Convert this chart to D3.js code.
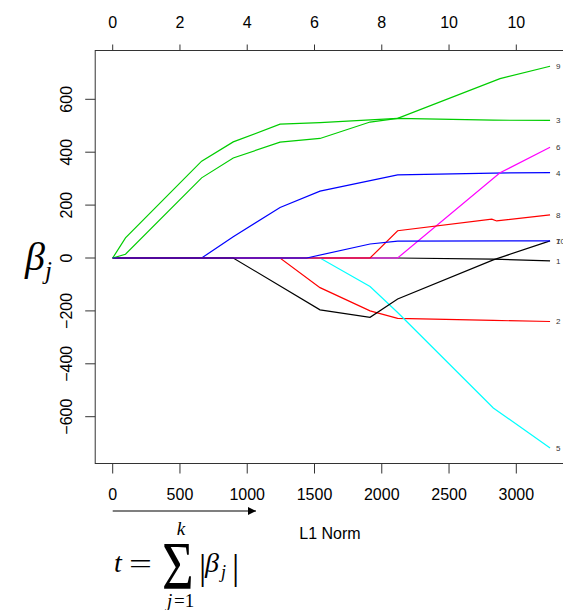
<!DOCTYPE html>
<html>
<head>
<meta charset="utf-8">
<script src="https://cdn.jsdelivr.net/npm/d3@7"></script>
<style>
  body { margin: 0; background: #fff; }
  svg { display: block; overflow: hidden; }
</style>
</head>
<body>
<div id="chart"></div>
<script>
// Coefficient paths: [L1 norm, beta] per variable
const v1 = [[0, 0], [2118, 0], [2829, -4], [3251, -11]];
const v2 = [[0, 0], [1244, 0], [1541, -112], [1913, -200], [2118, -228], [2829, -236], [3251, -240]];
const v3 = [[0, 0], [95, 76], [661, 366], [896, 439], [1244, 506], [1541, 512], [2118, 528], [2829, 521], [3251, 520]];
const v4 = [[0, 0], [661, 0], [896, 80], [1244, 191], [1541, 253], [2118, 314], [2829, 321], [3251, 323]];
const v5 = [[0, 0], [1541, 0], [1913, -108], [2118, -206], [2829, -567], [3251, -718]];
const v6 = [[0, 0], [2118, 0], [2879, 322], [3251, 419]];
const v7 = [[0, 0], [896, 0], [1541, -196], [1913, -224], [2118, -155], [2829, -7], [3251, 65]];
const v8 = [[0, 0], [1913, 0], [2118, 103], [2818, 147], [2854, 140], [3251, 163]];
const v9 = [[0, 0], [95, 14], [661, 303], [896, 378], [1244, 438], [1541, 452], [1913, 514], [2118, 528], [2879, 678], [3251, 725]];
const v10 = [[0, 0], [1442, 0], [1913, 53], [2118, 64], [3251, 65]];

const paths = [v1, v2, v3, v4, v5, v6, v7, v8, v9, v10];
const varNames = ["1", "2", "3", "4", "5", "6", "7", "8", "9", "10"];

// axis ticks
const xTicks = [0, 500, 1000, 1500, 2000, 2500, 3000];
const dfLabels = ["0", "2", "4", "6", "8", "10", "10"];
const yTicks = [-600, -400, -200, 0, 200, 400, 600];

// R's old default palette
const palette = ["#000000", "#FF0000", "#00CD00", "#0000FF", "#00FFFF", "#FF00FF"];

const width = 563, height = 610;

const svg = d3.select('#chart')
    .append('svg')
    .attr('width', width)
    .attr('height', height);

const x = d3.scaleLinear().domain([0, 3000]).range([112.7, 516.3]);
const y = d3.scaleLinear().domain([-600, 600]).range([416.7, 99.3]);

// plot box (R pads 4%, right side falls past the window)
const boxL = x(-130), boxR = x(3380), boxT = 50.5, boxB = 463.5;

const font = "'Liberation Sans', Arial, Helvetica, sans-serif";
const axisCol = "#333";

// lines
const line = d3.line().x(d => x(d[0])).y(d => y(d[1]));
svg.append('g')
    .selectAll('path')
    .data(paths)
    .join('path')
      .attr('d', line)
      .attr('fill', 'none')
      .attr('stroke', (d, i) => palette[i % palette.length])
      .attr('stroke-width', 1.2);

// box
svg.append('rect')
    .attr('x', boxL).attr('y', boxT)
    .attr('width', boxR - boxL).attr('height', boxB - boxT)
    .attr('fill', 'none').attr('stroke', axisCol).attr('stroke-width', 1);

// bottom axis
const bottomAxis = svg.append('g');
bottomAxis.append('line')
    .attr('x1', x(0)).attr('x2', x(3000)).attr('y1', boxB).attr('y2', boxB)
    .attr('stroke', axisCol);
bottomAxis.selectAll('line.tick').data(xTicks).join('line')
    .attr('class', 'tick')
    .attr('x1', d => x(d)).attr('x2', d => x(d))
    .attr('y1', boxB).attr('y2', boxB + 10)
    .attr('stroke', axisCol);
bottomAxis.selectAll('text').data(xTicks).join('text')
    .attr('x', d => x(d)).attr('y', 500)
    .attr('text-anchor', 'middle')
    .style('font-family', font).style('font-size', '16px')
    .text(d => d);

// top axis (degrees of freedom)
const topAxis = svg.append('g');
topAxis.selectAll('line').data(xTicks).join('line')
    .attr('x1', d => x(d)).attr('x2', d => x(d))
    .attr('y1', boxT).attr('y2', boxT - 6)
    .attr('stroke', axisCol);
topAxis.selectAll('text').data(xTicks).join('text')
    .attr('x', d => x(d)).attr('y', 27.5)
    .attr('text-anchor', 'middle')
    .style('font-family', font).style('font-size', '16px')
    .text((d, i) => dfLabels[i]);

// left axis
const leftAxis = svg.append('g');
leftAxis.selectAll('line').data(yTicks).join('line')
    .attr('x1', boxL).attr('x2', boxL - 10)
    .attr('y1', d => y(d)).attr('y2', d => y(d))
    .attr('stroke', axisCol);
leftAxis.selectAll('text').data(yTicks).join('text')
    .attr('transform', d => `translate(72,${y(d)}) rotate(-90)`)
    .attr('text-anchor', 'middle')
    .style('font-family', font).style('font-size', '16px')
    .text(d => d < 0 ? '\u2212' + Math.abs(d) : d);

// variable labels at the end of each path
svg.append('g')
    .selectAll('text')
    .data(paths)
    .join('text')
      .attr('x', d => x(d[d.length - 1][0]) + 6)
      .attr('y', d => y(d[d.length - 1][1]) + 3)
      .style('font-family', font).style('font-size', '8px')
      .style('fill', '#333')
      .text((d, i) => varNames[i]);

// x label
svg.append('text')
    .attr('x', 330).attr('y', 539)
    .attr('text-anchor', 'middle')
    .style('font-family', font).style('font-size', '16px')
    .text('L1 Norm');

// beta_j y label
const serif = "'Liberation Serif', 'DejaVu Serif', serif";
const yl = svg.append('text')
    .attr('x', 25).attr('y', 270)
    .style('font-family', serif).style('font-style', 'italic').style('font-size', '40px');
yl.append('tspan').text('\u03B2');
yl.append('tspan').attr('dy', 9).style('font-size', '25px').text('j');

// arrow under the x axis
svg.append('defs').append('marker')
    .attr('id', 'arrow')
    .attr('viewBox', '0 0 10 10')
    .attr('refX', 10).attr('refY', 5)
    .attr('markerWidth', 8).attr('markerHeight', 8)
    .attr('markerUnits', 'userSpaceOnUse')
    .attr('orient', 'auto')
  .append('path')
    .attr('d', 'M0,0 L10,5 L0,10 Z')
    .attr('fill', '#000');
svg.append('line')
    .attr('x1', x(0)).attr('x2', 256)
    .attr('y1', 511).attr('y2', 511)
    .attr('stroke', '#000').attr('stroke-width', 1.2)
    .attr('marker-end', 'url(#arrow)');

// formula t = sum |beta_j|
const f = svg.append('g').style('font-family', serif);
f.append('text').attr('x', 114).attr('y', 572)
    .style('font-style', 'italic').style('font-size', '28px').text('t');
f.append('text').attr('transform', 'translate(129,573) scale(1.45,1)')
    .style('font-size', '28px').text('=');
f.append('text').attr('transform', 'translate(162,588) scale(0.8,1)')
    .style('font-size', '68px').text('\u03A3');
f.append('text').attr('x', 181).attr('y', 535)
    .attr('text-anchor', 'middle')
    .style('font-style', 'italic').style('font-size', '19px').text('k');
f.append('text').attr('x', 167).attr('y', 607)
    .style('font-style', 'italic').style('font-size', '19px').text('j');
f.append('text').attr('x', 174).attr('y', 607)
    .style('font-size', '19px').text('=1');
f.append('text').attr('x', 199).attr('y', 579)
    .style('font-size', '36px').text('|');
f.append('text').attr('x', 205).attr('y', 572)
    .style('font-style', 'italic').style('font-size', '28px').text('\u03B2');
f.append('text').attr('x', 221).attr('y', 578)
    .style('font-style', 'italic').style('font-size', '18px').text('j');
f.append('text').attr('x', 232).attr('y', 579)
    .style('font-size', '36px').text('|');
</script>
</body>
</html>
